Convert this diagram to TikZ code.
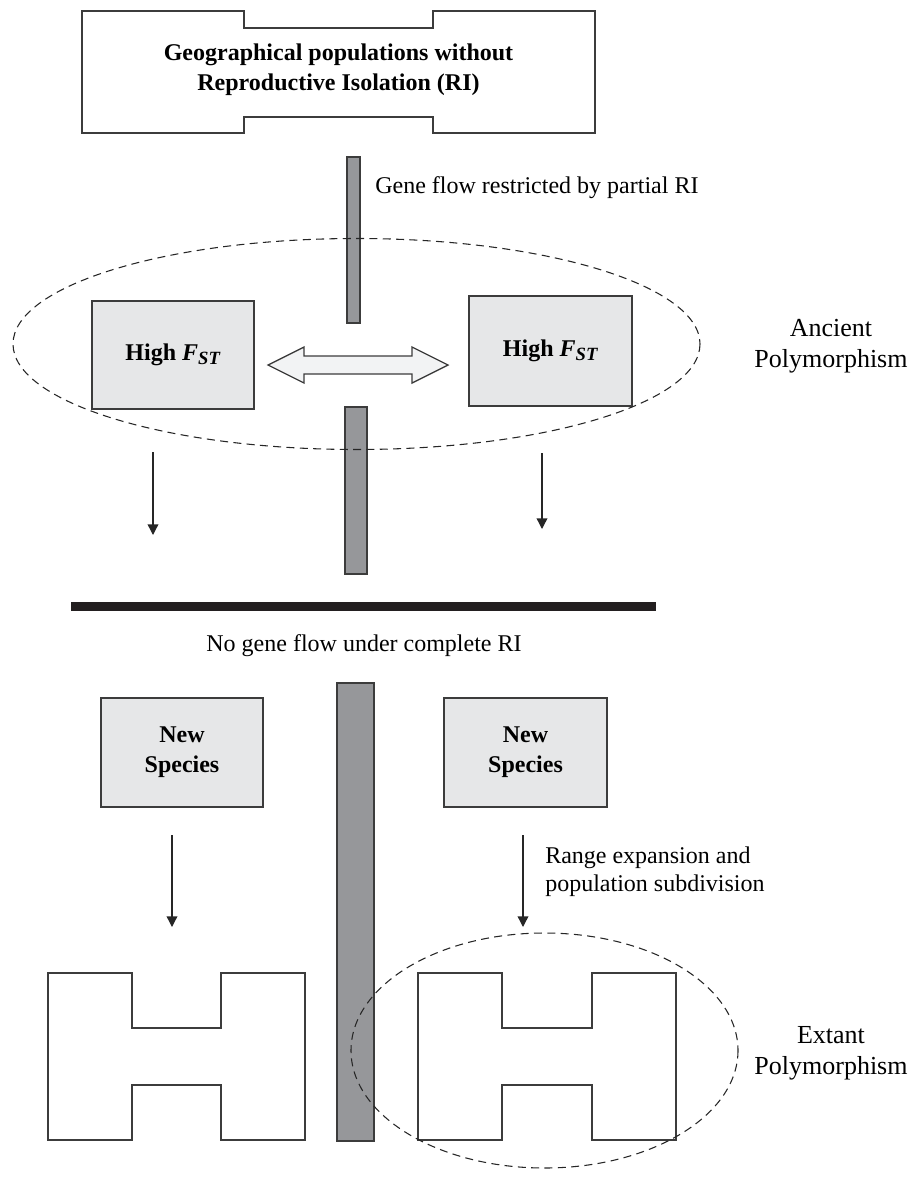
\documentclass[tikz,border=0pt]{standalone}
\usepackage{fontspec}
\setmainfont{Liberation Serif}
\usetikzlibrary{arrows.meta}
\definecolor{linecol}{HTML}{3C3C3C}
\definecolor{barfill}{HTML}{96979A}
\definecolor{boxfill}{HTML}{E6E7E8}
\definecolor{arrfill}{HTML}{F2F3F4}
\definecolor{blackbar}{HTML}{231F20}
\begin{document}
\begin{tikzpicture}[x=0.75pt,y=-0.75pt,
  every node/.style={font=\fontsize{18}{22.5}\selectfont, inner sep=0pt},
  outline/.style={draw=linecol, line width=1.1pt, line join=miter},
  graybox/.style={draw=linecol, fill=boxfill, line width=1.1pt, align=center},
  graybar/.style={draw=linecol, fill=barfill, line width=0.9pt},
  dashring/.style={draw=black!85, line width=0.8pt, dash pattern=on 6pt off 4pt},
  flowarrow/.style={draw=black!85, line width=1pt, -{Triangle[length=8pt,width=8pt]}},
  sidelabel/.style={font=\fontsize{19.5}{23.5}\selectfont, align=center}
]
\useasboundingbox (0,0) rectangle (913,1178);

% top shape
\draw[outline] (82,11) -- (244,11) -- (244,28) -- (433,28) -- (433,11) -- (595,11)
  -- (595,133) -- (433,133) -- (433,117) -- (244,117) -- (244,133) -- (82,133) -- cycle;
\node[align=center] (title) at (338.5,70) {\textbf{Geographical populations without}\\\textbf{Reproductive Isolation (RI)}};

% gray bars
\draw[graybar] (347,157) rectangle (360,323);
\draw[graybar] (345,407) rectangle (367,574);
\draw[graybar] (337,683) rectangle (374,1141);

\node[anchor=base west] (partial) at (375,193) {Gene flow restricted by partial RI};

% High FST boxes
\node[graybox, minimum width=121.5pt, minimum height=81pt] (fstL) at (173,355)
  {\textbf{High \textit{F}\raisebox{-0.35ex}{\fontsize{14}{14}\selectfont\textit{ST}}}};
\node[graybox, minimum width=122.25pt, minimum height=82.5pt] (fstR) at (550.5,351)
  {\textbf{High \textit{F}\raisebox{-0.35ex}{\fontsize{14}{14}\selectfont\textit{ST}}}};

% double arrow
\draw[draw=linecol, fill=arrfill, line width=1pt, line join=miter]
  (268,365) -- (304,347) -- (304,356) -- (412,356) -- (412,347) -- (448,365)
  -- (412,383) -- (412,374) -- (304,374) -- (304,383) -- cycle;

% ancient ellipse
\draw[dashring] (356.5,344) ellipse [x radius=343.5, y radius=105.5];
\node[sidelabel] (ancient) at (831,346) {Ancient\\Polymorphism};

% down arrows top
\coordinate (a1s) at (153,452); \coordinate (a1e) at (153,535);
\coordinate (a2s) at (542,453); \coordinate (a2e) at (542,529);
\draw[flowarrow] (a1s) -- (a1e);
\draw[flowarrow] (a2s) -- (a2e);

% black bar
\fill[blackbar] (71,602) rectangle (656,611);
\node[anchor=base] (complete) at (364,651) {No gene flow under complete RI};

% New species
\node[graybox, minimum width=121.5pt, minimum height=81.75pt] (nsL) at (182,752.5)
  {\textbf{New}\\\textbf{Species}};
\node[graybox, minimum width=122.25pt, minimum height=81.75pt] (nsR) at (525.5,752.5)
  {\textbf{New}\\\textbf{Species}};

\coordinate (b1s) at (172,835); \coordinate (b1e) at (172,927);
\coordinate (b2s) at (523,835); \coordinate (b2e) at (523,927);
\draw[flowarrow] (b1s) -- (b1e);
\draw[flowarrow] (b2s) -- (b2e);
\node[anchor=west, align=left, font=\fontsize{18}{21}\selectfont] (range) at (545,872)
  {Range expansion and\\population subdivision};

% H shapes
\draw[outline] (48,973) -- (132,973) -- (132,1028) -- (221,1028) -- (221,973) -- (305,973)
  -- (305,1140) -- (221,1140) -- (221,1085) -- (132,1085) -- (132,1140) -- (48,1140) -- cycle;
\draw[outline] (418,973) -- (502,973) -- (502,1028) -- (592,1028) -- (592,973) -- (676,973)
  -- (676,1140) -- (592,1140) -- (592,1085) -- (502,1085) -- (502,1140) -- (418,1140) -- cycle;

% extant ellipse
\draw[dashring] (544.5,1050.5) ellipse [x radius=193.5, y radius=117.5];
\node[sidelabel] (extant) at (831,1053) {Extant\\Polymorphism};
\end{tikzpicture}
\end{document}
